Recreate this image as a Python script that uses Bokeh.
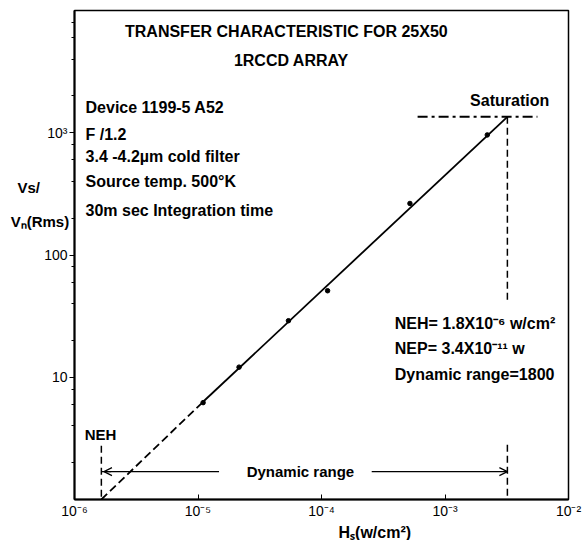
from bokeh.plotting import figure
from bokeh.models import Range1d, FixedTicker, Label, Arrow, OpenHead, Title
from bokeh.embed import file_html
from bokeh.resources import INLINE

# ---- data ----
hs_points = [1.1e-5, 2.15e-5, 5.4e-5, 1.12e-4, 5.2e-4, 2.2e-3]
vs_points = [6.2, 12.1, 29.0, 51.0, 264.0, 960.0]

fit_x = [1.1e-5, 3.2e-3]
fit_y = [6.3, 1350.0]
ext_x = [1.65e-6, 1.1e-5]
ext_y = [1.0, 6.3]

neh_x = 1.65e-6
sat_x = 3.2e-3
sat_y = 1350.0
sat_line_x = [6.0e-4, 5.6e-3]

x_ticks = [1e-6, 1e-5, 1e-4, 1e-3, 1e-2]
x_tick_labels = ["10⁻⁶", "10⁻⁵", "10⁻⁴", "10⁻³", "10⁻²"]
y_ticks = [10, 100, 1000]
y_tick_labels = ["10", "100", "10³"]
y_minor = [m * 10 ** d for d in range(0, 4) for m in (2, 4, 6, 8)]

FONT = "Liberation Sans"
W, H = 587, 540

p = figure(width=W, height=H, x_axis_type="log", y_axis_type="log",
           x_range=Range1d(1e-6, 1e-2), y_range=Range1d(1, 1e4),
           output_backend="svg", toolbar_location=None,
           min_border_left=74, min_border_right=19, min_border_top=10, min_border_bottom=38)
p.xgrid.visible = False
p.ygrid.visible = False
p.outline_line_color = "black"
p.outline_line_width = 1.5
p.background_fill_color = "white"
p.border_fill_color = "white"

# axes
p.xaxis.ticker = FixedTicker(ticks=x_ticks, minor_ticks=[])
p.xaxis.major_label_overrides = {t: l for t, l in zip(x_ticks, x_tick_labels)}
p.xaxis.major_tick_in = 5
p.xaxis.major_tick_out = 0
p.xaxis.minor_tick_in = 0
p.xaxis.minor_tick_out = 0
p.xaxis.axis_line_width = 2
p.xaxis.major_label_text_font = FONT
p.xaxis.major_label_text_font_size = "14px"
p.xaxis.major_label_text_color = "black"
p.xaxis.major_label_standoff = 3

p.yaxis.ticker = FixedTicker(ticks=y_ticks, minor_ticks=y_minor)
p.yaxis.major_label_overrides = {t: l for t, l in zip(y_ticks, y_tick_labels)}
p.yaxis.major_tick_in = 0
p.yaxis.major_tick_out = 5
p.yaxis.minor_tick_in = 0
p.yaxis.minor_tick_out = 3
p.yaxis.axis_line_width = 2
p.yaxis.major_label_text_font = FONT
p.yaxis.major_label_text_font_size = "14px"
p.yaxis.major_label_text_color = "black"
p.yaxis.major_label_standoff = 2

# y axis title: horizontal, two lines, raised above the centre like the reference
p.yaxis.axis_label = "Vs/" + "\u00a0" * 7 + "\nVₙ(Rms)\n\n\n"
p.yaxis.axis_label_orientation = "horizontal"
p.yaxis.axis_label_standoff = -28
p.yaxis.axis_label_text_font = FONT
p.yaxis.axis_label_text_font_size = "15px"
p.yaxis.axis_label_text_font_style = "bold"
p.yaxis.axis_label_text_color = "black"
p.yaxis.axis_label_text_line_height = 2.0

# x axis title, shifted right like the reference
p.add_layout(Title(text="Hₛ(w/cm²)", align="left", offset=264, standoff=0,
                   text_font=FONT, text_font_size="16px", text_font_style="bold",
                   text_color="black"), "below")

# lines and points
p.line(fit_x, fit_y, line_color="black", line_width=1.8)
p.line(ext_x, ext_y, line_color="black", line_width=1.8, line_dash="8 4")
p.scatter(hs_points, vs_points, size=4.5, color="black")

# saturation lines
p.line(sat_line_x, [sat_y, sat_y], line_color="black", line_width=2, line_dash="10 4 3 4")
p.line([sat_x, sat_x], [sat_y, 41.5], line_color="black", line_width=1.5, line_dash="7 4")
p.line([sat_x, sat_x], [2.8, 1.05], line_color="black", line_width=1.5, line_dash="7 4")
# NEH line
p.line([neh_x, neh_x], [2.75, 1.0], line_color="black", line_width=1.5, line_dash="7 4")

# dynamic range arrows
arr_y = 1.69
p.add_layout(Arrow(end=OpenHead(size=8, line_width=1.2), x_start=1.48e-5, y_start=arr_y,
                   x_end=neh_x * 1.05, y_end=arr_y, line_width=1.2))
p.line([neh_x, neh_x * 1.2], [arr_y, arr_y], line_color="black", line_width=1.2)
p.add_layout(Arrow(end=OpenHead(size=8, line_width=1.2), x_start=2.55e-4, y_start=arr_y,
                   x_end=sat_x, y_end=arr_y, line_width=1.2))


def X(px):
    return 10 ** (-6 + (px - 76) / 123.0)


def Y(py):
    return 10 ** ((502 - py) / 123.0)


def lab(text, px, py, size="16px", align="left", bold=True):
    p.add_layout(Label(x=X(px), y=Y(py), text=text, text_font=FONT, text_font_size=size,
                       text_align=align, text_baseline="middle",
                       text_font_style="bold" if bold else "normal", text_color="black"))


lab("TRANSFER CHARACTERISTIC FOR 25X50", 287, 31, "16px", "center")
lab("1RCCD ARRAY", 292, 60, "16px", "center")
lab("Device 1199-5 A52", 87, 108)
lab("F /1.2", 87, 135)
lab("3.4 -4.2µm cold filter", 87, 157)
lab("Source temp.  500°K", 87, 182)
lab("30m sec Integration time", 87, 211)
lab("Saturation", 470, 101)
lab("NEH= 1.8X10⁻⁶ w/cm²", 395, 325)
lab("NEP= 3.4X10⁻¹¹ w", 395, 350)
lab("Dynamic range=1800", 395, 376)
lab("NEH", 102, 437, "15px", "center")
lab("Dynamic range", 301, 474, "15px", "center")

open("out.html", "w").write(file_html(p, INLINE))
